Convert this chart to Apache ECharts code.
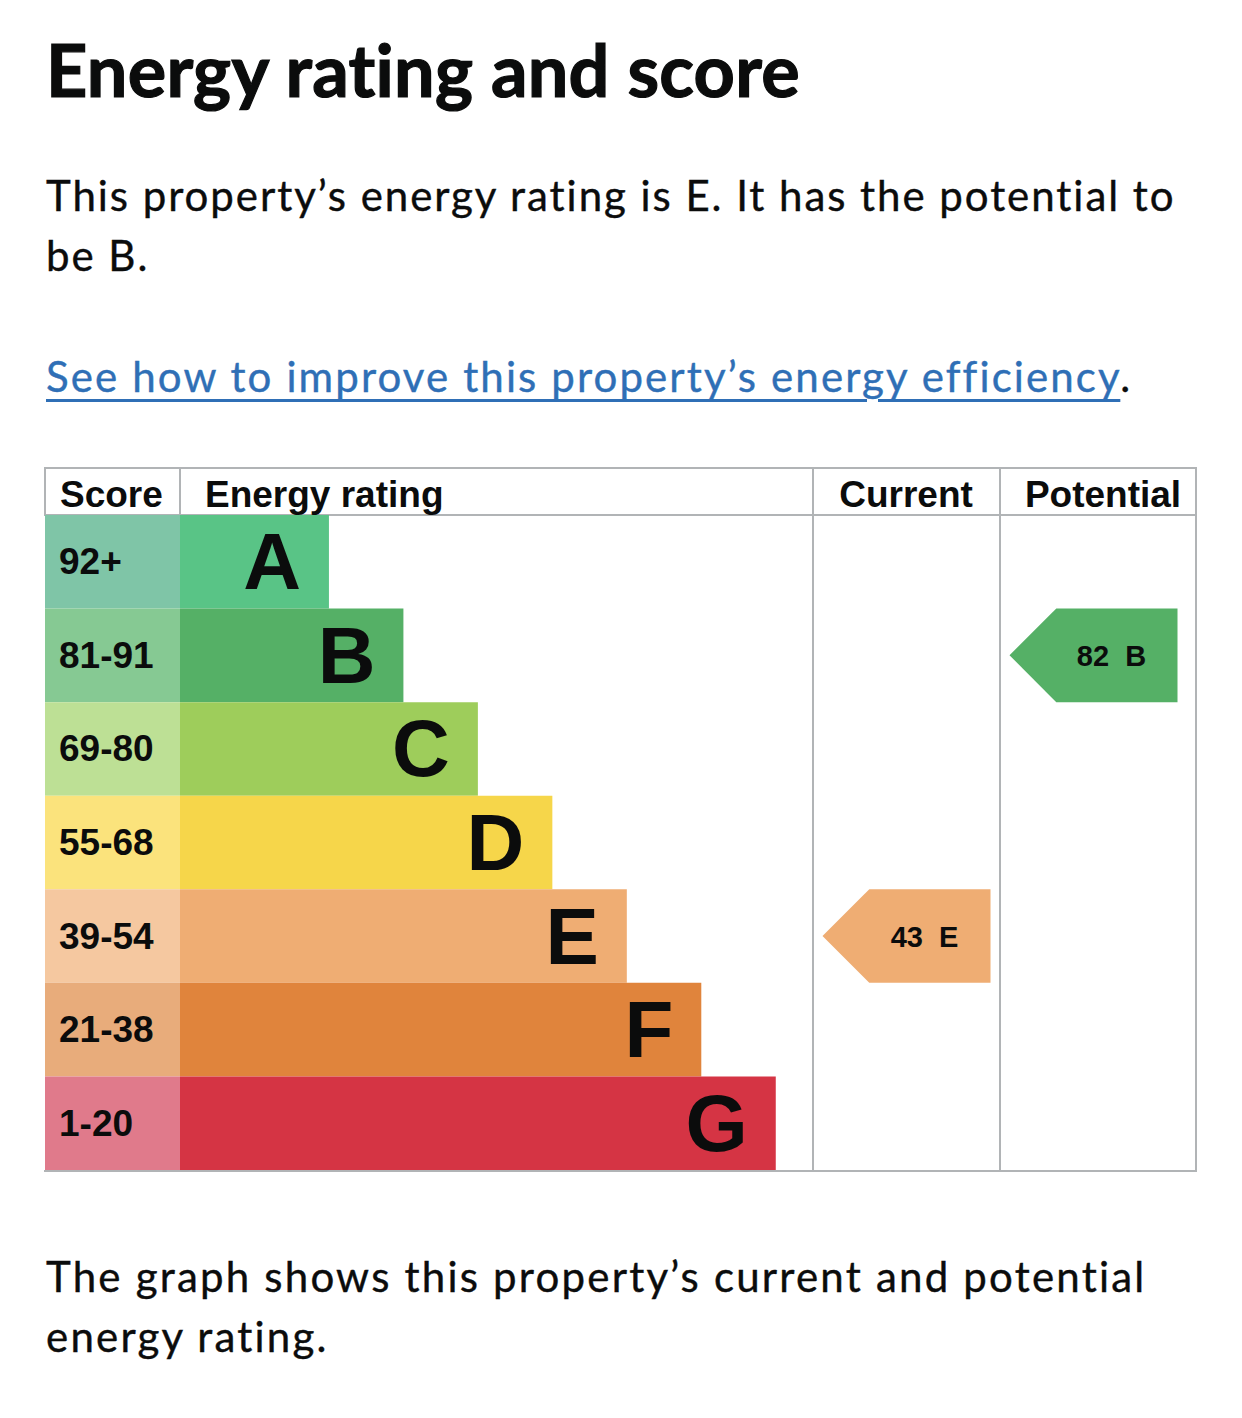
<!DOCTYPE html>
<html>
<head>
<meta charset="utf-8">
<title>Energy rating and score</title>
<script src="https://cdn.jsdelivr.net/npm/echarts@6.0.0/dist/echarts.min.js"></script>
<style type="text/css">
    body {
        margin: 0;
        width: 1242px;
        height: 1418px;
        position: relative;
        overflow: hidden;
        background: #fff;
        color: #0b0c0c;
        font-family: Lato, "Noto Sans", sans-serif;
    }

    #chart {
        position: absolute;
        left: 0;
        top: 0;
        width: 1242px;
        height: 1418px;
    }

    .txt {
        position: absolute;
        left: 46px;
        white-space: nowrap;
        z-index: 2;
    }

    h1.txt {
        margin: 0;
        font-size: 72px;
        line-height: 72px;
        font-weight: bold;
        top: 33px;
        -webkit-text-stroke: 1.2px #0b0c0c;
    }

    p.txt {
        margin: 0;
        font-size: 42px;
        line-height: 60px;
        -webkit-text-stroke: 0.4px #0b0c0c;
    }

    a {
        color: #2f6fb6;
        -webkit-text-stroke: 0.4px #2f6fb6;
        text-decoration: underline;
        text-decoration-thickness: 3px;
        text-underline-offset: 7px;
    }
</style>
</head>
<body>

<h1 class="txt" id="title"><span class="l1">Energy rating and score</span></h1>
<p class="txt" id="p1" style="top:165px"><span class="l1">This property’s energy rating is E. It has the potential to</span><br>be B.</p>
<p class="txt" id="p2" style="top:346px"><span class="l1"><a href="#">See how to improve this property’s energy efficiency</a>.</span></p>
<p class="txt" id="p3" style="top:1246px"><span class="l1">The graph shows this property’s current and potential</span><br>energy rating.</p>

<div id="chart"></div>

<script type="text/javascript">
    var bands = ['A', 'B', 'C', 'D', 'E', 'F', 'G'];
    var scoreRanges = ['92+', '81-91', '69-80', '55-68', '39-54', '21-38', '1-20'];
    var bandMin = [92, 81, 69, 55, 39, 21, 1];
    var barLength = [2, 3, 4, 5, 6, 7, 8];
    var bandColors = ['#59c486', '#55b066', '#9ecd5b', '#f6d64a', '#efad73', '#e0843c', '#d53444'];
    var scoreColors = ['#7fc5a7', '#86c993', '#bde095', '#fbe37c', '#f5c8a0', '#e8ac7b', '#e07a8b'];
    var columns = ['Score', 'Energy rating', 'Current', 'Potential'];
    var currentScore = 43;
    var potentialScore = 82;

    // stretch each paragraph so its first line is as wide as in the screenshot
    function fit(id, target) {
        var el = document.getElementById(id);
        var first = el.querySelector('.l1');
        var w = first.getBoundingClientRect().width;
        var n = first.textContent.length - 1;
        el.style.letterSpacing = ((target - w) / n) + 'px';
    }
    fit('title', 755);
    fit('p1', 1129);
    fit('p2', 1082);
    fit('p3', 1099);

    function bandOf(score) {
        for (var i = 0; i < bandMin.length; i++) {
            if (score >= bandMin[i]) return i;
        }
        return bandMin.length - 1;
    }

    var font = '"Liberation Sans", Arial, sans-serif';
    var lineColor = '#b1b4b6';

    var gridTop = 515, gridHeight = 655;
    var cols = [
        {left: 45, width: 135},
        {left: 180, width: 633},
        {left: 813, width: 187},
        {left: 1000, width: 196}
    ];

    function arrow(params, api) {
        var cs = params.coordSys;
        var score = api.value(0);
        var idx = api.value(1);
        var cy = api.coord([0, idx])[1];
        var h = api.size([0, 1])[1];
        var left = cs.x + 9.5, right = left + 168;
        return {
            type: 'group',
            children: [
                {
                    type: 'polygon',
                    shape: {points: [[left, cy], [left + h / 2, cy - h / 2], [right, cy - h / 2], [right, cy + h / 2], [left + h / 2, cy + h / 2]]},
                    style: {fill: bandColors[idx]}
                },
                {
                    type: 'text',
                    x: left + 102,
                    y: cy + 1,
                    style: {
                        text: score + '  ' + bands[idx],
                        fill: '#0b0c0c',
                        font: 'bold 29px ' + font,
                        align: 'center',
                        verticalAlign: 'middle'
                    }
                }
            ]
        };
    }

    function hline(y, x1, x2) {
        return {type: 'line', shape: {x1: x1, y1: y, x2: x2, y2: y}, style: {stroke: lineColor, lineWidth: 2}};
    }

    function vline(x, y1, y2) {
        return {type: 'line', shape: {x1: x, y1: y1, x2: x, y2: y2}, style: {stroke: lineColor, lineWidth: 2}};
    }

    function header(i, x, align) {
        return {
            type: 'text', x: x, y: 494,
            style: {text: columns[i], font: 'bold 37px ' + font, fill: '#0b0c0c', align: align, verticalAlign: 'middle'}
        };
    }

    var myChart = echarts.init(document.getElementById('chart'), null, {renderer: 'svg'});

    var option = {
        animation: false,
        grid: cols.map(function (c) {
            return {left: c.left, top: gridTop, width: c.width, height: gridHeight};
        }),
        xAxis: [1, 8.5, 1, 1].map(function (m, i) {
            return {type: 'value', gridIndex: i, min: 0, max: m, show: false};
        }),
        yAxis: cols.map(function (c, i) {
            return {type: 'category', gridIndex: i, data: bands, inverse: true, show: false};
        }),
        graphic: [
            hline(468, 44, 1197),
            hline(515, 44, 1197),
            hline(1171, 44, 1197),
            vline(45, 468, 515),
            vline(180, 468, 515),
            vline(813, 468, 1171),
            vline(1000, 468, 1171),
            vline(1196, 468, 1171),
            header(0, 60, 'left'),
            header(1, 205, 'left'),
            header(2, 906, 'center'),
            header(3, 1103, 'center')
        ],
        series: [
            {
                type: 'bar',
                xAxisIndex: 0,
                yAxisIndex: 0,
                barWidth: '100%',
                silent: true,
                data: scoreRanges.map(function (s, i) {
                    return {value: 1, itemStyle: {color: scoreColors[i]}};
                }),
                label: {
                    show: true,
                    position: 'insideLeft',
                    distance: 14,
                    formatter: function (p) {
                        return scoreRanges[p.dataIndex];
                    },
                    fontFamily: font,
                    fontSize: 37,
                    fontWeight: 'bold',
                    color: '#0b0c0c'
                }
            },
            {
                type: 'bar',
                xAxisIndex: 1,
                yAxisIndex: 1,
                barWidth: '100%',
                silent: true,
                data: barLength.map(function (v, i) {
                    return {value: v, itemStyle: {color: bandColors[i]}};
                }),
                label: {
                    show: true,
                    position: 'insideRight',
                    distance: 28,
                    formatter: function (p) {
                        return bands[p.dataIndex];
                    },
                    fontFamily: font,
                    fontSize: 80,
                    fontWeight: 'bold',
                    color: '#0b0c0c'
                }
            },
            {
                type: 'custom',
                xAxisIndex: 2,
                yAxisIndex: 2,
                silent: true,
                renderItem: arrow,
                encode: {x: 0, y: 1},
                data: [[currentScore, bandOf(currentScore)]]
            },
            {
                type: 'custom',
                xAxisIndex: 3,
                yAxisIndex: 3,
                silent: true,
                renderItem: arrow,
                encode: {x: 0, y: 1},
                data: [[potentialScore, bandOf(potentialScore)]]
            }
        ]
    };

    myChart.setOption(option);
</script>
</body>
</html>
